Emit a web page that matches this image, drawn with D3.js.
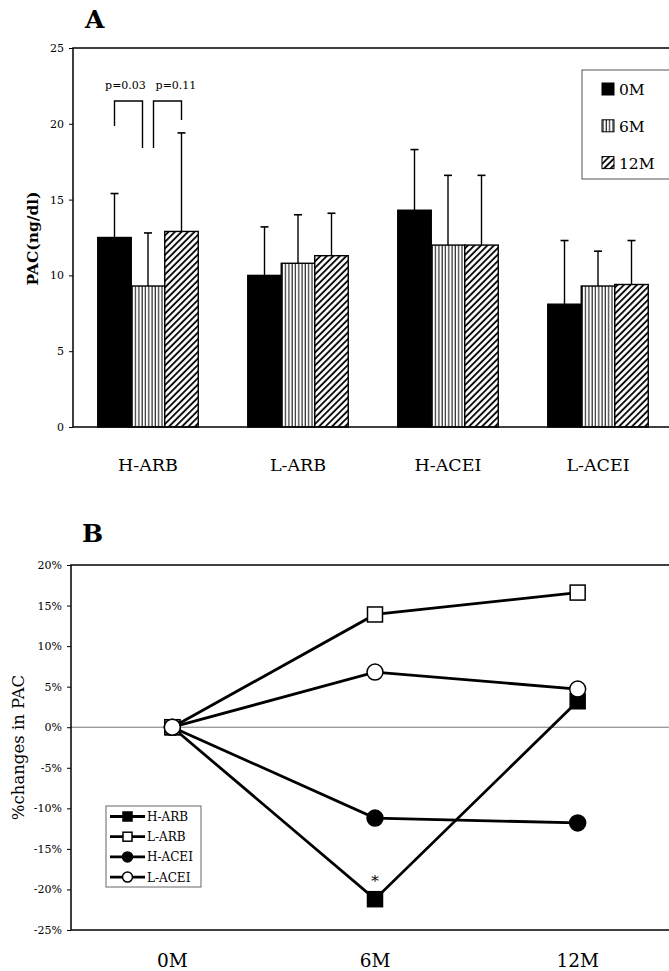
<!DOCTYPE html>
<html>
<head>
<meta charset="utf-8">
<script src="https://cdn.jsdelivr.net/npm/d3@7"></script>
<style>
  body { margin: 0; background: #fff; }
  svg text { font-family: "DejaVu Serif", "Liberation Serif", serif; fill: #000; }
</style>
</head>
<body>
<div id="viz"></div>
<script>
const WIDTH = 669;
const HEIGHT = 971;

// panel A data (PAC, ng/dl, mean and SD)
const groups = ['H-ARB', 'L-ARB', 'H-ACEI', 'L-ACEI'];
const periods = ['0M', '6M', '12M'];
const mean0M = [12.5, 10.0, 14.3, 8.1];
const mean6M = [9.3, 10.8, 12.0, 9.3];
const mean12M = [12.9, 11.3, 12.0, 9.4];
const sd0M = [2.9, 3.2, 4.0, 4.2];
const sd6M = [3.5, 3.2, 4.6, 2.3];
const sd12M = [6.5, 2.8, 4.6, 2.9];
const ticksA = [0, 5, 10, 15, 20, 25];
const brackets = [
  { label: 'p=0.03', from: '0M', to: '6M', top: 21.5, fromEnd: 19.85, toEnd: 18.4 },
  { label: 'p=0.11', from: '6M', to: '12M', top: 21.5, fromEnd: 18.4, toEnd: 20.25 }
];

// panel B data (% change in PAC)
const seriesB = ['H-ARB', 'L-ARB', 'H-ACEI', 'L-ACEI'];
const changeHARB = [0, -21.2, 3.2];
const changeLARB = [0, 13.9, 16.6];
const changeHACEI = [0, -11.2, -11.8];
const changeLACEI = [0, 6.8, 4.7];
const ticksB = [-25, -20, -15, -10, -5, 0, 5, 10, 15, 20];

// layout tweaks for the bracket legs / labels
const LEG_SHIFT = [[0, -5.5], [5.5, 0]];
const LABEL_SHIFT = [-3, 8.5];

const svg = d3.select('#viz').append('svg')
  .attr('width', WIDTH)
  .attr('height', HEIGHT);

const defs = svg.append('defs');
defs.append('pattern')
  .attr('id', 'vstripe')
  .attr('patternUnits', 'userSpaceOnUse')
  .attr('width', 3.3).attr('height', 10)
  .call(p => {
    p.append('rect').attr('width', 3.3).attr('height', 10).attr('fill', '#fff');
    p.append('line').attr('x1', 1).attr('x2', 1).attr('y1', 0).attr('y2', 10)
      .attr('stroke', '#000').attr('stroke-width', 1);
  });
defs.append('pattern')
  .attr('id', 'diag')
  .attr('patternUnits', 'userSpaceOnUse')
  .attr('width', 4.6).attr('height', 10)
  .attr('patternTransform', 'rotate(45)')
  .call(p => {
    p.append('rect').attr('width', 4.6).attr('height', 10).attr('fill', '#fff');
    p.append('line').attr('x1', 1).attr('x2', 1).attr('y1', 0).attr('y2', 10)
      .attr('stroke', '#000').attr('stroke-width', 1.8);
  });

const fills = { '0M': '#000', '6M': 'url(#vstripe)', '12M': 'url(#diag)' };

// ---------- Panel A ----------
const A = { left: 73, top: 48, right: 673, bottom: 427 };
const yA = d3.scaleLinear().domain([0, 25]).range([A.bottom, A.top]);
const x0 = d3.scaleBand().domain(groups).range([A.left, A.right])
  .paddingInner(0.33).paddingOuter(0.165);
const x1 = d3.scaleBand().domain(periods).range([0, x0.bandwidth()]);

const means = { '0M': mean0M, '6M': mean6M, '12M': mean12M };
const sds = { '0M': sd0M, '6M': sd6M, '12M': sd12M };
const barData = [];
groups.forEach((g, i) => {
  periods.forEach(p => {
    barData.push({ group: g, period: p, mean: means[p][i], sd: sds[p][i] });
  });
});

svg.append('text')
  .attr('x', 85).attr('y', 28)
  .attr('font-size', 25).attr('font-weight', 'bold')
  .text('A');

const gA = svg.append('g');

gA.append('g')
  .attr('transform', `translate(${A.left},0)`)
  .call(d3.axisLeft(yA).tickValues(ticksA).tickSize(4).tickSizeOuter(0).tickPadding(5))
  .call(g => g.select('.domain').remove())
  .call(g => g.selectAll('text').attr('font-size', 11).attr('font-family', '"DejaVu Serif", serif'));

const bars = gA.append('g')
  .selectAll('g')
  .data(barData)
  .join('g')
  .attr('transform', d => `translate(${x0(d.group) + x1(d.period)},0)`);

bars.append('line')
  .attr('x1', x1.bandwidth() / 2).attr('x2', x1.bandwidth() / 2)
  .attr('y1', d => yA(d.mean)).attr('y2', d => yA(d.mean + d.sd))
  .attr('stroke', '#000').attr('stroke-width', 1.4);
bars.append('line')
  .attr('x1', x1.bandwidth() / 2 - 4).attr('x2', x1.bandwidth() / 2 + 4)
  .attr('y1', d => yA(d.mean + d.sd)).attr('y2', d => yA(d.mean + d.sd))
  .attr('stroke', '#000').attr('stroke-width', 1.6);
bars.append('rect')
  .attr('x', 0).attr('width', x1.bandwidth())
  .attr('y', d => yA(d.mean)).attr('height', d => yA(0) - yA(d.mean))
  .attr('fill', d => fills[d.period])
  .attr('stroke', '#000').attr('stroke-width', 1.4);

// frame
gA.append('rect')
  .attr('x', A.left).attr('y', A.top)
  .attr('width', A.right - A.left).attr('height', A.bottom - A.top)
  .attr('fill', 'none').attr('stroke', '#000').attr('stroke-width', 1.5);

// category labels
gA.append('g')
  .selectAll('text')
  .data(groups)
  .join('text')
  .attr('x', d => x0(d) + x0.bandwidth() / 2)
  .attr('y', 471)
  .attr('text-anchor', 'middle')
  .attr('font-size', 17.5)
  .text(d => d);

// y label
gA.append('text')
  .attr('transform', `translate(38,${(A.top + A.bottom) / 2 + 1}) rotate(-90)`)
  .attr('text-anchor', 'middle')
  .attr('font-size', 15.5).attr('font-weight', 'bold')
  .text('PAC(ng/dl)');

// significance brackets
const bx = (period, shift) => x0('H-ARB') + x1(period) + x1.bandwidth() / 2 + shift;
brackets.forEach((b, i) => {
  const xa = bx(b.from, LEG_SHIFT[i][0]);
  const xb = bx(b.to, LEG_SHIFT[i][1]);
  gA.append('path')
    .attr('d', `M${xa},${yA(b.fromEnd)}V${yA(b.top)}H${xb}V${yA(b.toEnd)}`)
    .attr('fill', 'none').attr('stroke', '#000').attr('stroke-width', 1.4);
  gA.append('text')
    .attr('x', (xa + xb) / 2 + LABEL_SHIFT[i]).attr('y', 89)
    .attr('text-anchor', 'middle')
    .attr('font-size', 11)
    .text(b.label);
});

// legend A
const legA = gA.append('g').attr('transform', 'translate(582,70)');
legA.append('rect')
  .attr('width', 110).attr('height', 109)
  .attr('fill', '#fff').attr('stroke', '#555').attr('stroke-width', 1);
periods.forEach((p, i) => {
  const row = legA.append('g').attr('transform', `translate(20,${19 + i * 36.8})`);
  row.append('rect')
    .attr('x', 0).attr('y', -6).attr('width', 12).attr('height', 12)
    .attr('fill', fills[p]).attr('stroke', '#000').attr('stroke-width', 1);
  row.append('text')
    .attr('x', 17).attr('y', 6)
    .attr('font-size', 15.5)
    .text(p);
});

// ---------- Panel B ----------
const B = { left: 71, top: 565, right: 679, bottom: 930 };
const yB = d3.scaleLinear().domain([-25, 20]).range([B.bottom, B.top]);
const xB = d3.scalePoint().domain(periods).range([B.left, B.right]).padding(0.5);

const changes = [changeHARB, changeLARB, changeHACEI, changeLACEI];
const markers = [
  { shape: 'square', fill: '#000' },
  { shape: 'square', fill: '#fff' },
  { shape: 'circle', fill: '#000' },
  { shape: 'circle', fill: '#fff' }
];

svg.append('text')
  .attr('x', 82).attr('y', 542)
  .attr('font-size', 25).attr('font-weight', 'bold')
  .text('B');

const gB = svg.append('g');

gB.append('g')
  .attr('transform', `translate(${B.left},0)`)
  .call(d3.axisLeft(yB).tickValues(ticksB).tickSize(4).tickSizeOuter(0).tickPadding(5)
    .tickFormat(d => `${d}%`))
  .call(g => g.select('.domain').remove())
  .call(g => g.selectAll('text').attr('font-size', 11).attr('font-family', '"DejaVu Serif", serif'));

// zero line
gB.append('line')
  .attr('x1', B.left).attr('x2', B.right)
  .attr('y1', yB(0)).attr('y2', yB(0))
  .attr('stroke', '#777').attr('stroke-width', 1);

gB.append('rect')
  .attr('x', B.left).attr('y', B.top)
  .attr('width', B.right - B.left).attr('height', B.bottom - B.top)
  .attr('fill', 'none').attr('stroke', '#000').attr('stroke-width', 1.5);

const line = d3.line()
  .x((d, i) => xB(periods[i]))
  .y(d => yB(d));

gB.append('g')
  .selectAll('path')
  .data(changes)
  .join('path')
  .attr('d', d => line(d))
  .attr('fill', 'none').attr('stroke', '#000').attr('stroke-width', 2.8);

function drawMarker(sel, m, size) {
  if (m.shape === 'square') {
    sel.append('rect')
      .attr('x', -size / 2).attr('y', -size / 2)
      .attr('width', size).attr('height', size)
      .attr('fill', m.fill).attr('stroke', '#000').attr('stroke-width', 1.5);
  } else {
    sel.append('circle')
      .attr('r', size / 2 + 0.5)
      .attr('fill', m.fill).attr('stroke', '#000').attr('stroke-width', 1.5);
  }
}

changes.forEach((vals, s) => {
  vals.forEach((v, i) => {
    const g = gB.append('g').attr('transform', `translate(${xB(periods[i])},${yB(v)})`);
    drawMarker(g, markers[s], 15);
  });
});

// significance mark
gB.append('text')
  .attr('x', xB('6M')).attr('y', yB(changeHARB[1]) - 13)
  .attr('text-anchor', 'middle')
  .attr('font-size', 15)
  .text('*');

// x labels
gB.append('g')
  .selectAll('text')
  .data(periods)
  .join('text')
  .attr('x', d => xB(d))
  .attr('y', 967)
  .attr('text-anchor', 'middle')
  .attr('font-size', 18.5)
  .text(d => d);

// y label
gB.append('text')
  .attr('transform', `translate(24,${(B.top + B.bottom) / 2}) rotate(-90)`)
  .attr('text-anchor', 'middle')
  .attr('font-size', 16.5)
  .text('%changes in PAC');

// legend B
const legB = gB.append('g').attr('transform', 'translate(106,806)');
legB.append('rect')
  .attr('width', 95).attr('height', 81)
  .attr('fill', '#fff').attr('stroke', '#666').attr('stroke-width', 1);
seriesB.forEach((name, i) => {
  const row = legB.append('g').attr('transform', `translate(0,${10.5 + i * 20.2})`);
  row.append('line')
    .attr('x1', 4).attr('x2', 39)
    .attr('stroke', '#000').attr('stroke-width', 2.8);
  drawMarker(row.append('g').attr('transform', 'translate(21.5,0)'), markers[i], 9);
  row.append('text')
    .attr('x', 41).attr('y', 4.5)
    .attr('font-size', 12)
    .text(name);
});
</script>
</body>
</html>
